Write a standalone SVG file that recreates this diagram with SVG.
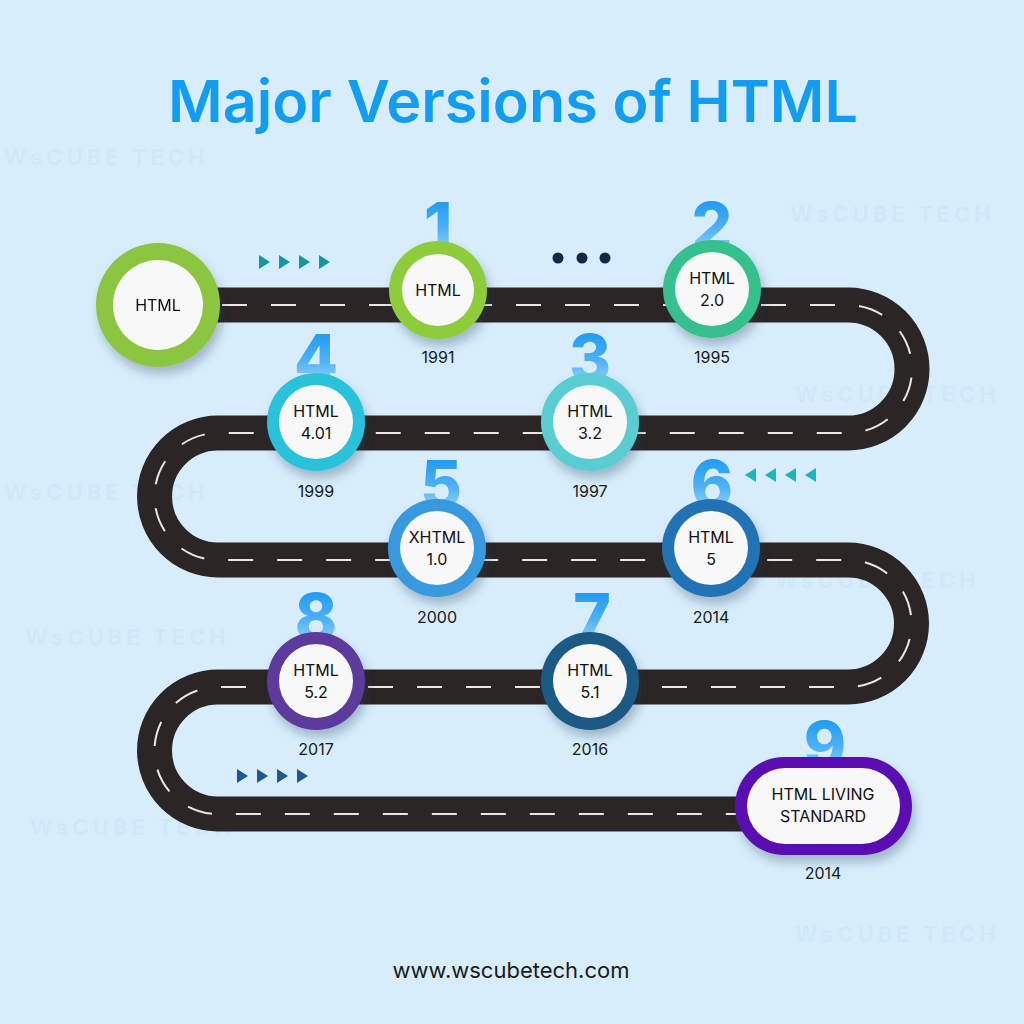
<svg xmlns="http://www.w3.org/2000/svg" width="1024" height="1024" viewBox="0 0 1024 1024">
<defs>
<style>
.wm{font-family:"Inter","Liberation Sans",sans-serif;font-weight:700;font-size:22px;letter-spacing:4px;fill:#cbe5f6;opacity:0.6}
.title{font-family:"Inter","Liberation Sans",sans-serif;font-weight:600;font-size:58px;fill:#129df1}
.lbl{font-family:"Inter","Liberation Sans",sans-serif;font-size:16px;fill:#111;text-anchor:middle}
.yr{font-family:"Inter","Liberation Sans",sans-serif;font-size:16px;fill:#1a1a1a;text-anchor:middle}
.num{font-family:"Inter","Liberation Sans",sans-serif;font-weight:800;font-size:64px;fill:url(#numGrad);text-anchor:middle}
.inner{fill:#f8f8f8}
.road{fill:none;stroke:#2c2525;stroke-width:35}
.dash{fill:none;stroke:#ece6e6;stroke-width:2;stroke-dasharray:25 24;stroke-dashoffset:27}
</style>
<linearGradient id="numGrad" x1="0" y1="0" x2="0" y2="1">
<stop offset="0" stop-color="#0b8ff0"/>
<stop offset="0.55" stop-color="#4fb2f5"/>
<stop offset="1" stop-color="#c9e8fb"/>
</linearGradient>
<filter id="sh" x="-30%" y="-30%" width="160%" height="170%">
<feDropShadow dx="3" dy="7" stdDeviation="5" flood-color="#1a3a55" flood-opacity="0.3"/>
</filter>
</defs>
<rect width="1024" height="1024" fill="#d7edfb"/>
<g id="watermarks">
<text class="wm" x="4" y="165">WsCUBE TECH</text>
<text class="wm" x="790" y="222">WsCUBE TECH</text>
<text class="wm" x="795" y="402">WsCUBE TECH</text>
<text class="wm" x="4" y="500">WsCUBE TECH</text>
<text class="wm" x="775" y="588">WsCUBE TECH</text>
<text class="wm" x="25" y="645">WsCUBE TECH</text>
<text class="wm" x="30" y="835">WsCUBE TECH</text>
<text class="wm" x="795" y="942">WsCUBE TECH</text>
</g>
<text id="title" class="title" x="513" y="122" text-anchor="middle" textLength="690" lengthAdjust="spacingAndGlyphs">Major Versions of HTML</text>
<g id="connectors">
<path class="road" d="M200,305 H848 A64,64 0 0 1 848,433 H218 A63.5,63.5 0 0 0 218,560 H848 A63.5,63.5 0 0 1 848,687 H218 A63.5,63.5 0 0 0 218,814 H790"/>
<path class="dash" d="M200,305 H848 A64,64 0 0 1 848,433 H218 A63.5,63.5 0 0 0 218,560 H848 A63.5,63.5 0 0 1 848,687 H218 A63.5,63.5 0 0 0 218,814 H790"/>
</g>
<g id="decor">
<g fill="#1596a5">
<polygon points="259,255 270,262 259,269"/>
<polygon points="279,255 290,262 279,269"/>
<polygon points="299,255 310,262 299,269"/>
<polygon points="319,255 330,262 319,269"/>
</g>
<g fill="#0e2a45">
<circle cx="558" cy="258" r="5.5"/>
<circle cx="582" cy="258" r="5.5"/>
<circle cx="605" cy="258" r="5.5"/>
</g>
<g fill="#1fb4bd">
<polygon points="756,468 745,475 756,482"/>
<polygon points="776,468 765,475 776,482"/>
<polygon points="796,468 785,475 796,482"/>
<polygon points="816,468 805,475 816,482"/>
</g>
<g fill="#1d5a8a">
<polygon points="237,769 248,776 237,783"/>
<polygon points="257,769 268,776 257,783"/>
<polygon points="277,769 288,776 277,783"/>
<polygon points="297,769 308,776 297,783"/>
</g>
</g>
<g id="numbers">
<text class="num" x="438" y="249">1</text>
<text class="num" x="712" y="249">2</text>
<text class="num" x="590" y="381">3</text>
<text class="num" x="316" y="381">4</text>
<text class="num" x="441" y="507">5</text>
<text class="num" x="712" y="507">6</text>
<text class="num" x="592" y="640">7</text>
<text class="num" x="316" y="640">8</text>
<text class="num" x="825" y="768">9</text>
</g>
<g id="node-start" filter="url(#sh)">
<circle cx="158" cy="305" r="62" fill="#8cc63f"/>
<circle class="inner" cx="158" cy="305" r="45"/>
<text class="lbl" x="158" y="311">HTML</text>
</g>
<g id="node-1">
<g filter="url(#sh)"><circle cx="438" cy="290" r="49" fill="#8fcc3b"/><circle class="inner" cx="438" cy="290" r="36"/></g>
<text class="lbl" x="438" y="296">HTML</text>
<text class="yr" x="438" y="363">1991</text>
</g>
<g id="node-2">
<g filter="url(#sh)"><circle cx="712" cy="289" r="49" fill="#35c08d"/><circle class="inner" cx="712" cy="289" r="37"/></g>
<text class="lbl" x="712" y="284">HTML</text>
<text class="lbl" x="712" y="306">2.0</text>
<text class="yr" x="712" y="363">1995</text>
</g>
<g id="node-3">
<g filter="url(#sh)"><circle cx="590" cy="422" r="49" fill="#5acdd2"/><circle class="inner" cx="590" cy="422" r="37"/></g>
<text class="lbl" x="590" y="417">HTML</text>
<text class="lbl" x="590" y="439">3.2</text>
<text class="yr" x="590" y="497">1997</text>
</g>
<g id="node-4">
<g filter="url(#sh)"><circle cx="316" cy="422" r="49" fill="#2ac2da"/><circle class="inner" cx="316" cy="422" r="37"/></g>
<text class="lbl" x="316" y="417">HTML</text>
<text class="lbl" x="316" y="439">4.01</text>
<text class="yr" x="316" y="497">1999</text>
</g>
<g id="node-5">
<g filter="url(#sh)"><circle cx="437" cy="548" r="49" fill="#3899df"/><circle class="inner" cx="437" cy="548" r="37"/></g>
<text class="lbl" x="437" y="543">XHTML</text>
<text class="lbl" x="437" y="565">1.0</text>
<text class="yr" x="437" y="623">2000</text>
</g>
<g id="node-6">
<g filter="url(#sh)"><circle cx="711" cy="548" r="49" fill="#2372b6"/><circle class="inner" cx="711" cy="548" r="37"/></g>
<text class="lbl" x="711" y="543">HTML</text>
<text class="lbl" x="711" y="565">5</text>
<text class="yr" x="711" y="623">2014</text>
</g>
<g id="node-7">
<g filter="url(#sh)"><circle cx="590" cy="681" r="49" fill="#1c5a86"/><circle class="inner" cx="590" cy="681" r="37"/></g>
<text class="lbl" x="590" y="676">HTML</text>
<text class="lbl" x="590" y="698">5.1</text>
<text class="yr" x="590" y="755">2016</text>
</g>
<g id="node-8">
<g filter="url(#sh)"><circle cx="316" cy="681" r="49" fill="#5b3b9c"/><circle class="inner" cx="316" cy="681" r="37"/></g>
<text class="lbl" x="316" y="676">HTML</text>
<text class="lbl" x="316" y="698">5.2</text>
<text class="yr" x="316" y="755">2017</text>
</g>
<g id="node-9">
<g filter="url(#sh)"><rect x="735" y="757" width="177" height="98" rx="49" fill="#5a10b0"/><rect class="inner" x="747" y="768" width="153" height="76" rx="38"/></g>
<text class="lbl" x="823" y="800">HTML LIVING</text>
<text class="lbl" x="823" y="822">STANDARD</text>
<text class="yr" x="823" y="879">2014</text>
</g>
<text id="footer" x="511" y="978" text-anchor="middle" font-family="Inter, 'Liberation Sans', sans-serif" font-size="22" fill="#1a1a1a">www.wscubetech.com</text>
</svg>
